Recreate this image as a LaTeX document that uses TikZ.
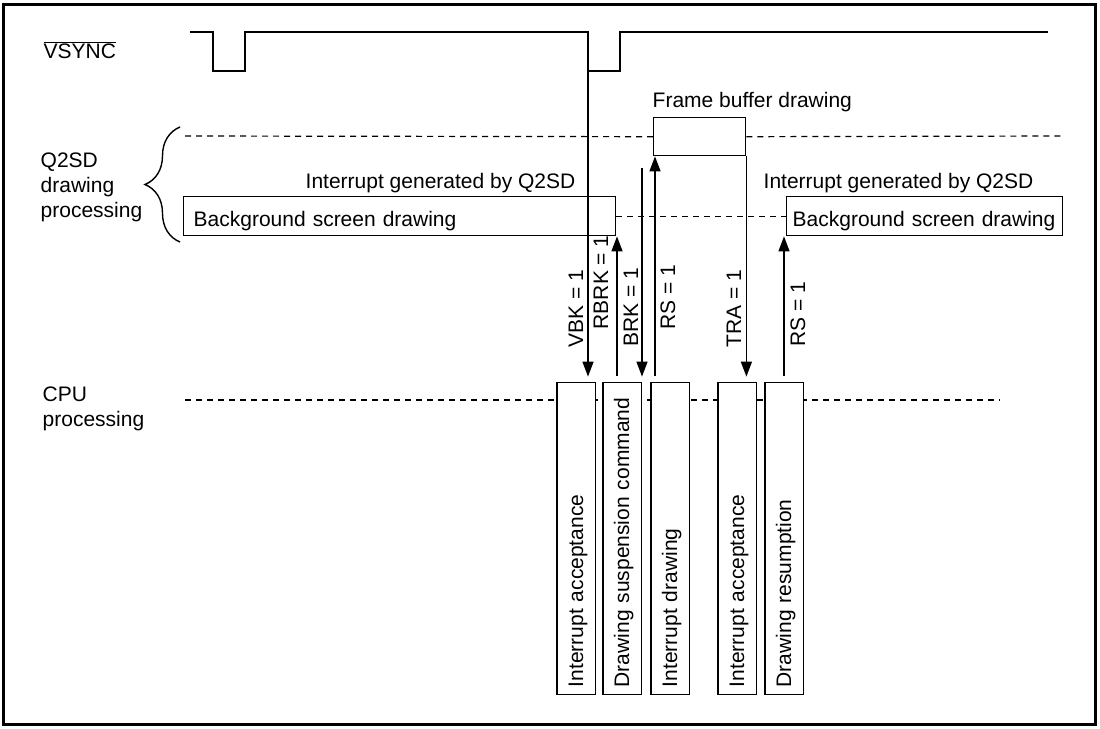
\documentclass[tikz,border=0pt]{standalone}
\usepackage{fontspec}
\setmainfont{Liberation Sans}
\usetikzlibrary{arrows.meta,decorations.pathreplacing}

\begin{document}
\begin{tikzpicture}[x=1pt, y=-1pt, line width=1.4pt,
  every node/.style={font=\fontsize{21}{25}\selectfont, inner sep=0pt},
  grid/.style={dash pattern=on 6pt off 5pt, line width=1.2pt},
  bgbox/.style={draw, anchor=north west, text height=30pt, text depth=9pt, align=left},
  cpubox/.style={draw, fill=white, rotate=90, anchor=west, inner xsep=7pt, text width=298pt, text height=26pt, text depth=12.5pt, align=left},
  sig/.style={-{Triangle[length=15pt,width=11pt]}},
  flag/.style={rotate=90, anchor=base west}]
\useasboundingbox (0,0) rectangle (1100,728);
\draw[line width=3pt] (3,4) rectangle (1095,724);

% VSYNC
\node[anchor=base west] (vsynclbl) at (43,58) {$\overline{\mbox{VSYNC}}$};
\coordinate (vsfall) at (588,71);
\draw (190,32) -- (213,32) -- (213,71) -- (245,71) -- (245,32) -- (588,32) -- (vsfall) -- (620,71) -- (620,32) -- (1048,32);

% Q2SD side
\node[anchor=west, align=left] (q2sdlbl) at (40,187.5) {Q2SD\\drawing\\processing};
\draw[decorate, decoration={brace, amplitude=35pt, aspect=0.5}] (180,242) -- (180,127);
\node[anchor=base west] (fblbl) at (652,107) {Frame buffer drawing};
\node[draw, anchor=north west, minimum width=92pt, minimum height=38pt] (fbuf) at (653,117) {};
\node[anchor=base west] (irqA) at (305,188) {Interrupt generated by Q2SD};
\node[anchor=base west] (irqB) at (763,188) {Interrupt generated by Q2SD};
\node[bgbox, inner xsep=10pt, text width=412pt] (bgA) at (183,196) {Background screen drawing};
\node[bgbox, inner xsep=6pt, text width=264pt] (bgB) at (786,196) {Background screen drawing};
\draw[grid] (185,136) -- (fbuf.west);
\draw[grid] (fbuf.east) -- (1062,136);
\draw[grid] (bgA.east) -- (bgB.west);

% CPU side
\node[anchor=west, align=left] (cpulbl) at (42,409) {CPU\\processing};
\draw[grid] (185,400) -- (1000,400);
\node[cpubox] (cpuA) at (576.25,695) {Interrupt acceptance};
\node[cpubox] (cpuB) at (622.25,695) {Drawing suspension command};
\node[cpubox] (cpuC) at (670.25,695) {Interrupt drawing};
\node[cpubox] (cpuD) at (737.25,695) {Interrupt acceptance};
\node[cpubox] (cpuE) at (784.25,695) {Drawing resumption};

% flags
\coordinate (rbrk) at (617,376);
\coordinate (brk) at (642,168);
\coordinate (rsA) at (655,376);
\coordinate (rsB) at (784,376);
\draw[sig, shorten >=5pt] (vsfall) -- (vsfall |- cpuA.east);
\draw[sig] (rbrk) -- (rbrk |- bgA.south);
\draw[sig, shorten >=5pt] (brk) -- (brk |- cpuB.east);
\draw[sig] (rsA) -- (rsA |- fbuf.south);
\draw[sig, shorten >=5pt] (fbuf.south east) -- (fbuf.south east |- cpuD.east);
\draw[sig] (rsB) -- (rsB |- bgB.south);
\node[flag] (vbklbl) at (583,348) {VBK = 1};
\node[flag] (rbrklbl) at (608,330) {RBRK = 1};
\node[flag] (brklbl) at (638,347) {BRK = 1};
\node[flag] (rslblA) at (675,330) {RS = 1};
\node[flag] (tralbl) at (741,348) {TRA = 1};
\node[flag] (rslblB) at (805,347) {RS = 1};
\end{tikzpicture}
\end{document}
